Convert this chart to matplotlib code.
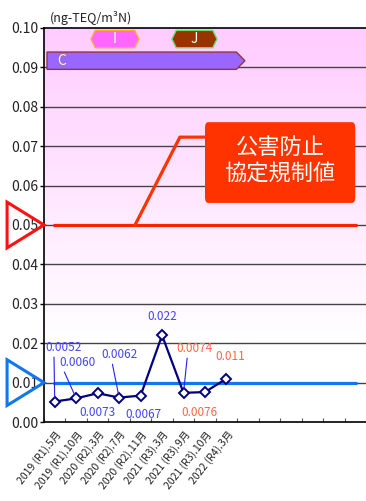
import numpy as np
import matplotlib
import matplotlib.pyplot as plt
from matplotlib.patches import Polygon, FancyBboxPatch

matplotlib.rcParams['font.family'] = ['Noto Sans CJK JP', 'DejaVu Sans']

# data
dates = ["2019 (R1).5月", "2019 (R1).10月", "2020 (R2).3月", "2020 (R2).7月",
         "2020 (R2).11月", "2021 (R3).3月", "2021 (R3).9月", "2021 (R3).10月",
         "2022 (R4).3月"]
values = [0.0052, 0.0060, 0.0073, 0.0062, 0.0067, 0.022, 0.0074, 0.0076, 0.011]
labels = ["0.0052", "0.0060", "0.0073", "0.0062", "0.0067", "0.022", "0.0074", "0.0076", "0.011"]
n_slots = 15
env_std = 0.01       # environmental standard
agreement = 0.05     # pollution control agreement value
periods = [("C", -0.36, 8.86, 0.0917), ("I", 1.69, 3.92, 0.0972), ("J", 5.46, 7.56, 0.0972)]

# label offsets in points (dx, dy), colour, leader line relpos
lab_style = [
    ((6, 34), '#4444ff', (0.25, 0)),
    ((1, 21), '#4444ff', (0.1, 0)),
    ((0, -9), '#4444ff', None),
    ((0, 26), '#4444ff', (0.3, 0)),
    ((2, -9), '#4444ff', None),
    ((0, 9), '#4444ff', None),
    ((8, 27), '#ff6644', (0.3, 0)),
    ((-4, -10), '#ff6644', None),
    ((3, 11), '#ff6644', None),
]

fig = plt.figure(figsize=(3.66, 5.01), dpi=100)
ax = fig.add_axes([44/366, 79/501, 322/366, 394/501])

x = np.arange(len(values))
ax.set_xlim(-0.5, n_slots - 0.5)
ax.set_ylim(0, 0.10)

# pink gradient background
grad = np.linspace(0, 1, 200).reshape(-1, 1)
g = np.clip((grad - 0.2) / 0.8, 0, 1)  # 0 at y=0.02, 1 at y=0.10
img = np.dstack([np.ones_like(g), 1 - g * (51/255), np.ones_like(g)])
ax.imshow(img, extent=(-0.5, n_slots - 0.5, 0, 0.10), origin='lower',
          aspect='auto', zorder=0)

for yv in np.arange(0.01, 0.10, 0.01):
    ax.axhline(yv, color='#444444', lw=1.0, zorder=1)

# period bars
bar_styles = {"C": ('#9966ff', '#993344', '#ffff99'),
              "I": ('#ff66ff', '#ffaa33', 'white'),
              "J": ('#993300', '#66dd66', 'white')}
for name, x0, x1, yc in periods:
    fc, ec, tc = bar_styles[name]
    if name == "C":
        h = 0.0022
        tip = 0.4
        pts = [(x0, yc - h), (x0, yc + h), (x1 - tip, yc + h), (x1, yc),
               (x1 - tip, yc - h)]
        ax.add_patch(Polygon(pts, closed=True, fc=fc, ec=ec, lw=1, zorder=3))
        ax.text(x0 + 0.7, yc, name, color=tc, fontsize=10,
                ha='center', va='center', zorder=4)
    else:
        h = 0.0022
        tip = 0.2
        pts = [(x0, yc), (x0 + tip, yc + h), (x1 - tip, yc + h), (x1, yc),
               (x1 - tip, yc - h), (x0 + tip, yc - h)]
        ax.add_patch(Polygon(pts, closed=True, fc=fc, ec=ec, lw=1, zorder=3))
        ax.text((x0 + x1) / 2, yc, name, color=tc, fontsize=10,
                ha='center', va='center', zorder=4)

# standard lines
ax.plot([-0.08, n_slots - 0.92], [agreement, agreement], color='#ff2200', lw=2.3, zorder=2,
        solid_capstyle='butt')
ax.plot([-0.08, n_slots - 0.92], [env_std, env_std], color='#1177ee', lw=2.3, zorder=2,
        solid_capstyle='butt')

# callout
ax.plot([3.74, 5.83, 7.0], [agreement, 0.0723, 0.0723], color='#ff3300', lw=2.3, zorder=2)
box = FancyBboxPatch((7.0, 0.0556), 7.0, 0.0205, boxstyle='round,pad=0,rounding_size=0.15',
                     fc='#ff3300', ec='none', zorder=3, mutation_aspect=0.01)
ax.add_patch(box)
ax.text(10.5, 0.0664, "公害防止\n協定規制値", color='white', fontsize=16,
        ha='center', va='center', linespacing=1.2, zorder=4)

# triangles at left
for yv, col in [(agreement, '#ff1111'), (env_std, '#1177ee')]:
    tri = Polygon([(-2.22, yv + 0.0058), (-2.22, yv - 0.0058), (-0.5, yv)], closed=True,
                  fill=False, ec=col, lw=2.2, clip_on=False, zorder=5)
    ax.add_patch(tri)

# data line
ax.plot(x, values, color='#000080', lw=1.6, marker='D', ms=5, mfc='white',
        mec='#000080', mew=1.4, zorder=6)

for i, (v, lab) in enumerate(zip(values, labels)):
    off, col, rel = lab_style[i]
    va = 'bottom' if off[1] > 0 else 'top'
    if rel is not None:
        ax.annotate(lab, (x[i], v), xytext=off, textcoords='offset points',
                    ha='center', va=va, color=col, fontsize=8.5, zorder=7,
                    arrowprops=dict(arrowstyle='-', color='#2222ee', lw=0.8,
                                    shrinkA=0, shrinkB=3, relpos=rel))
    else:
        ax.annotate(lab, (x[i], v), xytext=off, textcoords='offset points',
                    ha='center', va=va, color=col, fontsize=8.5, zorder=7)

# axes styling
ax.set_yticks(np.arange(0, 0.101, 0.01))
ax.set_yticklabels([f"{t:.2f}" for t in np.arange(0, 0.101, 0.01)], fontsize=10,
                   color='#222222')
ax.tick_params(axis='y', length=3, width=1, direction='out', pad=1)

ax.set_xticks(np.arange(-0.5, n_slots, 1.0))
ax.set_xticklabels([])
ax.tick_params(axis='x', which='major', direction='in', length=3, color='#555555')
ax.set_xticks(x, minor=True)
ax.set_xticklabels(dates, minor=True, rotation=52, ha='right', va='top',
                   rotation_mode='anchor', fontsize=7.5, color='#222222')
ax.tick_params(axis='x', which='minor', length=0, pad=5)

for s in ['left', 'bottom', 'top']:
    ax.spines[s].set_color('black')
    ax.spines[s].set_linewidth(1.2)
ax.spines['right'].set_visible(False)

fig.text(50/366, 1 - 18/501, "(ng-TEQ/m³N)", fontsize=9, color='#222222',
         ha='left', va='center')

fig.savefig("out.png", dpi=100)
